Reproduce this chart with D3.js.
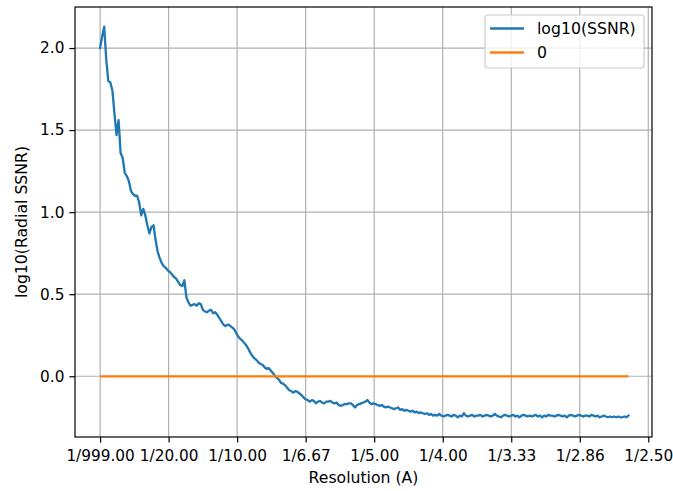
<!DOCTYPE html>
<html>
<head>
<meta charset="utf-8">
<script src="https://d3js.org/d3.v7.min.js"></script>
<style>
  body { margin: 0; background: #fff; }
  svg { display: block; font-family: "DejaVu Sans", sans-serif; }
</style>
</head>
<body>
<div id="chart"></div>
<script>
// radial SSNR per Fourier shell (log10), shell spacing in 1/A
const shellStep = 0.0015;
const ssnrLog = [
  2.00, 2.07, 2.13, 1.93, 1.80, 1.79, 1.74, 1.60, 1.47, 1.56,
  1.36, 1.33, 1.24, 1.22, 1.19, 1.13, 1.11, 1.10, 1.10, 1.06,
  0.98, 1.02, 0.98, 0.92, 0.87, 0.91, 0.92, 0.83, 0.76, 0.72,
  0.69, 0.67, 0.66, 0.645, 0.635, 0.62, 0.605, 0.595, 0.575, 0.555,
  0.55, 0.585, 0.48, 0.45, 0.43, 0.435, 0.44, 0.43, 0.445, 0.44,
  0.405, 0.395, 0.39, 0.40, 0.405, 0.385, 0.39, 0.375, 0.355, 0.335,
  0.315, 0.305, 0.315, 0.31, 0.30, 0.29, 0.27, 0.245, 0.23, 0.22,
  0.205, 0.19, 0.17, 0.145, 0.125, 0.11, 0.10, 0.085, 0.075, 0.07,
  0.055, 0.045, 0.05, 0.035, 0.02, 0.005, -0.01, -0.02, -0.04, -0.045,
  -0.055, -0.07, -0.085, -0.09, -0.10, -0.09, -0.095, -0.105, -0.115, -0.13,
  -0.14, -0.145, -0.155, -0.145, -0.15, -0.165, -0.155, -0.15, -0.16, -0.165,
  -0.155, -0.155, -0.15, -0.16, -0.165, -0.16, -0.175, -0.18, -0.175, -0.17,
  -0.17, -0.165, -0.165, -0.175, -0.19, -0.175, -0.17, -0.165, -0.16, -0.155,
  -0.145, -0.16, -0.17, -0.165, -0.17, -0.175, -0.18, -0.175, -0.185, -0.19,
  -0.185, -0.19, -0.195, -0.2, -0.195, -0.19, -0.205, -0.2, -0.21, -0.205,
  -0.21, -0.215, -0.21, -0.22, -0.215, -0.225, -0.22, -0.225, -0.23, -0.225,
  -0.235, -0.23, -0.24, -0.235, -0.24, -0.23, -0.24, -0.245, -0.24, -0.235,
  -0.24, -0.245, -0.235, -0.24, -0.25, -0.24, -0.245, -0.225, -0.24, -0.245,
  -0.24, -0.235, -0.245, -0.24, -0.24, -0.235, -0.245, -0.24, -0.235, -0.24,
  -0.245, -0.24, -0.23, -0.24, -0.245, -0.25, -0.24, -0.235, -0.24, -0.245,
  -0.24, -0.235, -0.245, -0.24, -0.25, -0.24, -0.235, -0.24, -0.245, -0.24,
  -0.245, -0.24, -0.235, -0.245, -0.24, -0.25, -0.24, -0.245, -0.235, -0.24,
  -0.24, -0.245, -0.24, -0.235, -0.24, -0.245, -0.24, -0.25, -0.24, -0.235,
  -0.24, -0.245, -0.24, -0.235, -0.24, -0.245, -0.24, -0.24, -0.245, -0.235,
  -0.24, -0.245, -0.24, -0.25, -0.245, -0.24, -0.245, -0.25, -0.245, -0.25,
  -0.245, -0.25, -0.245, -0.25, -0.25, -0.245, -0.25, -0.24
];
const zeroLine = [0, 0];

const xTickVals = [0, 0.05, 0.1, 0.15, 0.2, 0.25, 0.3, 0.35, 0.4];
const xTickLabels = ['1/999.00', '1/20.00', '1/10.00', '1/6.67', '1/5.00', '1/4.00', '1/3.33', '1/2.86', '1/2.50'];
const yTickVals = [0, 0.5, 1.0, 1.5, 2.0];

const legendItems = [
  { label: 'log10(SSNR)', color: '#1f77b4' },
  { label: '0', color: '#ff7f0e' }
];

const W = 673, H = 491;
const plot = { left: 75, right: 652, top: 7, bottom: 437 };
const fs = 15.3, labelFs = 15.7;

const svg = d3.select('#chart').append('svg')
  .attr('width', W).attr('height', H);

const ssnr = ssnrLog.map((v, i) => ({ f: i * shellStep, v }));
const fMax = ssnr[ssnr.length - 1].f;

const x = d3.scaleLinear().domain([-0.0183, 0.4027]).range([plot.left, plot.right]);
const y = d3.scaleLinear().domain([-0.370, 2.250]).range([plot.bottom, plot.top]);

// grid
const grid = svg.append('g').attr('stroke', '#b0b0b0').attr('stroke-width', 1.2);
grid.selectAll('.gx').data(xTickVals).join('line')
  .attr('x1', d => x(d)).attr('x2', d => x(d))
  .attr('y1', plot.top).attr('y2', plot.bottom);
grid.selectAll('.gy').data(yTickVals).join('line')
  .attr('x1', plot.left).attr('x2', plot.right)
  .attr('y1', d => y(d)).attr('y2', d => y(d));

// series
const line = d3.line().x(d => x(d.f)).y(d => y(d.v));
svg.append('path').datum(ssnr)
  .attr('d', line).attr('fill', 'none')
  .attr('stroke', '#1f77b4').attr('stroke-width', 2.3)
  .attr('stroke-linejoin', 'round').attr('stroke-linecap', 'square');
svg.append('path').datum(zeroLine.map((v, i) => ({ f: i * fMax, v })))
  .attr('d', line).attr('fill', 'none')
  .attr('stroke', '#ff7f0e').attr('stroke-width', 2.3);

// axes
const xAxis = d3.axisBottom(x).tickValues(xTickVals)
  .tickFormat((d, i) => xTickLabels[i]).tickSize(5.6).tickPadding(7.4);
const yAxis = d3.axisLeft(y).tickValues(yTickVals)
  .tickFormat(d3.format('.1f')).tickSize(5.6).tickPadding(5);

const gx = svg.append('g').attr('transform', `translate(0,${plot.bottom})`).call(xAxis);
const gy = svg.append('g').attr('transform', `translate(${plot.left},0)`).call(yAxis);
[gx, gy].forEach(g => {
  g.select('.domain').remove();
  g.selectAll('.tick line').attr('stroke', '#000').attr('stroke-width', 1.2);
  g.selectAll('.tick text').attr('fill', '#000')
    .attr('font-family', '"DejaVu Sans", sans-serif').attr('font-size', fs);
});

// frame
svg.append('rect')
  .attr('x', plot.left).attr('y', plot.top)
  .attr('width', plot.right - plot.left).attr('height', plot.bottom - plot.top)
  .attr('fill', 'none').attr('stroke', '#000').attr('stroke-width', 1.2);

// axis labels
svg.append('text')
  .attr('x', (plot.left + plot.right) / 2).attr('y', 483)
  .attr('text-anchor', 'middle').attr('font-size', labelFs)
  .text('Resolution (A)');
svg.append('text')
  .attr('transform', `translate(27,${(plot.top + plot.bottom) / 2}) rotate(-90)`)
  .attr('text-anchor', 'middle').attr('font-size', labelFs)
  .text('log10(Radial SSNR)');

// legend
const lg = svg.append('g').attr('transform', 'translate(485,15)');
lg.append('rect')
  .attr('width', 159).attr('height', 53).attr('rx', 3)
  .attr('fill', '#fff').attr('fill-opacity', 0.8)
  .attr('stroke', '#cccccc').attr('stroke-width', 1.2);
const li = lg.selectAll('.item').data(legendItems).join('g')
  .attr('transform', (d, i) => `translate(0,${13.5 + i * 24})`);
li.append('line')
  .attr('x1', 5).attr('x2', 39)
  .attr('stroke', d => d.color).attr('stroke-width', 2.3);
li.append('text')
  .attr('x', 52).attr('dy', '0.35em').attr('font-size', labelFs)
  .text(d => d.label);
</script>
</body>
</html>
